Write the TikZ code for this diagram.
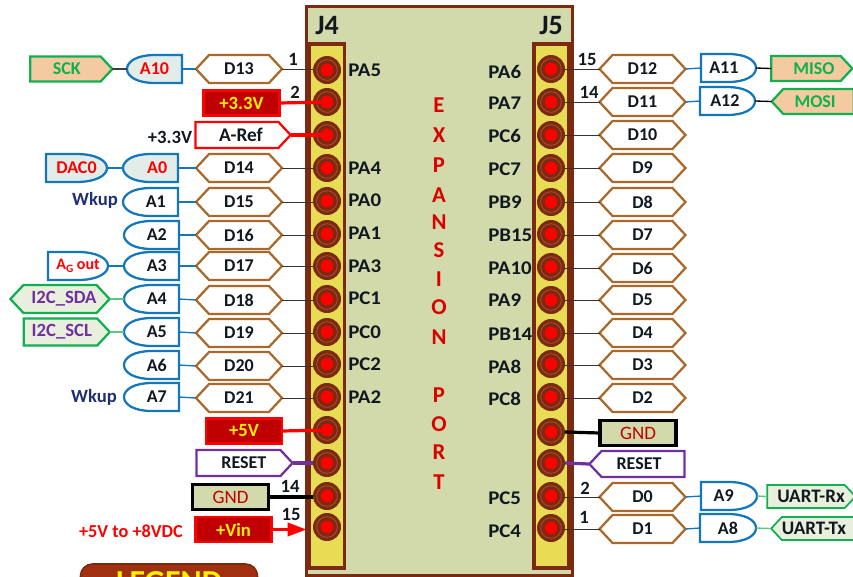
\documentclass[tikz,border=0pt]{standalone}
\usepackage{fontspec}
\setmainfont{Carlito}
\newfontfamily\portfont[FakeStretch=1.08]{Carlito}
\usetikzlibrary{shapes.symbols,arrows.meta}
\definecolor{bbrown}{HTML}{7A2A10}
\definecolor{rring}{HTML}{A8482C}
\definecolor{hbrown}{HTML}{A9692B}
\definecolor{bblue}{HTML}{1577BB}
\definecolor{ggreen}{HTML}{10B050}
\definecolor{pblue}{HTML}{E2ECE8}
\definecolor{pgreen}{HTML}{E8EFDC}
\definecolor{porange}{HTML}{F4CBA0}
\definecolor{board}{HTML}{D2D9AB}
\definecolor{stripc}{HTML}{E8DC55}
\definecolor{dred}{HTML}{C00000}
\definecolor{ppurple}{HTML}{7030A0}
\definecolor{navyt}{HTML}{1F3070}
\definecolor{legendc}{HTML}{A03010}
\definecolor{inkc}{HTML}{101820}
\tikzset{
  wpx/.style={minimum width=#1*0.75pt},
  hpx/.style={minimum height=#1*0.75pt},
  txt/.style={font=\fontsize{13.5}{14}\bfseries,text=inkc,inner sep=0pt},
  sig/.style={shape=signal,draw,line width=1.7pt,inner sep=0pt,outer sep=0pt,txt,signal pointer angle=94},
  hexn/.style={sig,signal to=east and west,draw=hbrown,fill=white,wpx=86,hpx=28},
  powerbox/.style={draw=red,line width=1.6pt,fill=dred,text=yellow,font=\fontsize{14}{15}\bfseries,inner sep=0pt,outer sep=0pt,wpx=76,hpx=25},
  gndbox/.style={draw=black,line width=2.4pt,fill=board,text=dred,font=\fontsize{14.2}{15}\selectfont,inner sep=0pt,outer sep=0pt,wpx=76,hpx=25},
  gatetext/.style={txt,outer sep=0pt,hpx=28},
  gateline/.style={draw=bblue,line width=1.7pt,fill=white},
  pinout/.style={circle,fill=bbrown,inner sep=0pt,minimum size=21pt,outer sep=0pt},
  pinring/.style={circle,draw=rring,line width=0.7pt,inner sep=0pt,minimum size=15.5pt},
  pincore/.style={circle,fill=red,inner sep=0pt,minimum size=9.5pt},
  port/.style={txt,font=\portfont\fontsize{14.5}{15}\bfseries},
  num/.style={txt,font=\fontsize{14}{15}\bfseries},
  capt/.style={inner sep=0pt,font=\fontsize{21}{22}\bfseries,text=inkc},
  vert/.style={inner sep=0pt,font=\fontsize{17}{18}\bfseries,text=dred!60!red},
  thin link/.style={draw=black!80,line width=0.75pt},
  blue link/.style={draw=bblue,line width=1pt},
  green link/.style={draw=ggreen!70!white,line width=1pt},
}
% dir (1: flat edge right, -1: flat edge left), name, flat x, centre y, width, style, text shift, text
\newcommand{\gatenode}[8]{%
  \begin{scope}[shift={(#3,#4)},xscale=#1]
    \draw[gateline,#6] (0,-14) -- (-#5*0.5,-14) .. controls (-#5*0.8,-14) and (-#5,-8) .. (-#5,0)
      .. controls (-#5,8) and (-#5*0.8,14) .. (-#5*0.5,14) -- (0,14) -- cycle;
  \end{scope}
  \node[gatetext,wpx=#5] (#2) at ({#3-(#1)*#5*0.5},#4) {\hspace*{#7pt}#8};
}
\newcommand{\pinnode}[3]{%
  \node[pinout] (#1) at (#2,#3) {};
  \node[pinring] (#1r) at (#2,#3) {};
  \node[pincore] (#1c) at (#2,#3) {};
}
\begin{document}
\begin{tikzpicture}[x=0.75pt,y=-0.75pt]
\useasboundingbox (0,0) rectangle (853,576);
\clip (0,0) rectangle (853,576);
% board
\node[draw=bbrown,line width=2.4pt,fill=board,inner sep=0pt,wpx=266,hpx=569] (board) at (439.5,291) {};
\node[draw=bbrown,line width=2.4pt,fill=stripc,inner sep=0pt,wpx=35,hpx=524] (stripL) at (327,306) {};
\node[draw=bbrown,line width=2.4pt,fill=stripc,inner sep=0pt,wpx=35,hpx=524] (stripR) at (551.5,306) {};
\node[capt] (j4) at (327,26) {J4};
\node[capt] (j5) at (551,26) {J5};
% pins
\foreach \n/\y in {1/70,2/102,3/135,4/168,5/201,6/234,7/266,8/299,9/332,10/364,11/397,12/430,13/463,14/496,15/527}
  {\pinnode{L\n}{327}{\y}}
\foreach \n/\y in {1/69,2/102,3/135,4/168,5/202,6/234,7/267,8/300,9/333,10/364,11/397,12/432,13/463,14/496,15/528}
  {\pinnode{R\n}{551}{\y}}
% port names
\foreach \t/\y in {PA5/70,PA4/168,PA0/200,PA1/233,PA3/266,PC1/298,PC0/332,PC2/364,PA2/397}
  {\node[port,anchor=west] (p\t) at (348,\y) {\t};}
\foreach \t/\y in {PA6/72,PA7/103,PC6/136,PC7/169,PB9/202,PB15/235,PA10/268,PA9/300,PB14/334,PA8/367,PC8/399,PC5/498,PC4/531}
  {\node[port,anchor=west] (p\t) at (488,\y) {\t};}
% centre lettering
\foreach \t/\y [count=\i] in {E/105,X/135,P/165,A/195,N/222,S/250,I/279,O/307,N/337,P/395,O/424,R/452,T/482}
  {\node[vert] (v\i) at (439,\y) {\t};}
% left hexes with links
\foreach \t/\y/\p in {D13/69/L1,D14/168/L4,D15/202/L5,D16/235/L6,D17/266/L7,D18/300/L8,D19/333/L9,D20/366/L10,D21/398/L11}
  {\node[hexn] (\t) at (239,\y) {\t};
   \draw[thin link] (\t.east) -- (\p.west |- \t.east);}
% right hexes with links
\foreach \t/\y/\p in {D12/69/R1,D11/102/R2,D10/135/R3,D9/168/R4,D8/202/R5,D7/235/R6,D6/268/R7,D5/300/R8,D4/333/R9,D3/365/R10,D2/398/R11,D0/497/R14,D1/529/R15}
  {\node[hexn] (\t) at (642.5,\y) {\t};
   \draw[thin link] (\t.west) -- (\p.east |- \t.west);}
% left analog gates
\gatenode{1}{A10}{182}{69}{55}{fill=pblue}{0}{\textcolor{red}{A10}}
\gatenode{1}{A0}{178}{168}{55}{fill=pblue}{10}{\textcolor{red}{A0}}
\gatenode{1}{A1}{178}{202}{55}{}{8}{A1}
\gatenode{1}{A2}{179}{235}{55}{}{8}{A2}
\gatenode{1}{A3}{179}{266}{55}{}{8}{A3}
\gatenode{1}{A4}{179}{299}{55}{}{8}{A4}
\gatenode{1}{A5}{179}{332}{55}{}{8}{A5}
\gatenode{1}{A6}{179}{365}{55}{}{8}{A6}
\gatenode{1}{A7}{179}{397}{55}{}{8}{A7}
\foreach \a/\d in {A10/D13,A0/D14,A1/D15,A2/D16,A3/D17,A4/D18,A5/D19,A6/D20,A7/D21}
  {\draw[blue link] (\a.east) -- (\d.west);}
% left outer labels
\node[sig,signal to=east,draw=ggreen,fill=porange,text=ggreen,wpx=82,hpx=25] (SCK) at (65.5,69) {\hspace*{2pt}SCK};
\draw[draw=black!75,line width=1.2pt] (SCK.east) -- (A10.west);
\gatenode{-1}{DAC0}{46}{168}{61}{fill=pblue}{0}{\textcolor{red}{DAC0}}
\draw[blue link] (DAC0.east) -- (A0.west);
\gatenode{-1}{Agout}{48}{266}{60}{}{0}{\textcolor{red}{\fontsize{12}{13}\selectfont\bfseries A\raisebox{-2pt}{\fontsize{8.5}{9}\selectfont G} out}}
\draw[blue link] (Agout.east) -- (A3.west);
\node[sig,signal to=east and west,draw=ggreen,fill=pgreen,text=ppurple,wpx=96,hpx=28,font=\fontsize{14}{15}\bfseries] (SDA) at (60,299) {\hspace*{6pt}I2C\_SDA};
\draw[green link] (SDA.east) -- (A4.west);
\node[sig,signal to=east,draw=ggreen,fill=pgreen,text=ppurple,wpx=86,hpx=27,font=\fontsize{14}{15}\bfseries] (SCL) at (60.5,332) {\hspace*{2pt}I2C\_SCL};
\draw[green link] (SCL.east) -- (A5.west);
\node[txt,text=navyt,font=\fontsize{14}{15}\bfseries] (wk1) at (95,200) {Wkup};
\node[txt,text=navyt,font=\fontsize{14}{15}\bfseries] (wk2) at (94,397) {Wkup};
\node[txt,font=\fontsize{14}{15}\bfseries] (v33) at (170,137) {+3.3V};
\node[txt,text=red,font=\fontsize{13.7}{15}\bfseries] (vrange) at (131,531) {+5V to +8VDC};
% left power
\node[powerbox] (P33) at (241.5,103) {+3.3V};
\draw[red,line width=2.4pt] (P33.east) -- (L2c.center);
\node[sig,signal to=east,draw=red,fill=white,wpx=95,hpx=26,font=\fontsize{14.5}{15}\bfseries] (AREF) at (237,135) {\hspace*{6pt}A-Ref};
\draw[red,line width=2.4pt] (AREF.east) -- (L3c.center);
\node[powerbox] (P5) at (244,431) {+5V};
\draw[red,line width=2.4pt] (P5.east) -- (L12c.center);
\node[sig,signal to=east,draw=ppurple,fill=white,wpx=96,hpx=26] (RSTL) at (238.5,463) {\hspace*{8pt}RESET};
\draw[ppurple,line width=2.4pt] (RSTL.east) -- (L13.west);
\node[gndbox] (GNDL) at (230.5,497) {GND};
\draw[black,line width=2.4pt] (GNDL.east) -- (L14.west |- GNDL.east);
\node[powerbox] (VIN) at (233.5,529.5) {+Vin};
\draw[red,line width=2pt,-{Triangle[length=14pt,width=10pt]},shorten >=5pt] (VIN.east) -- (L15.west |- VIN.east);
% right side
\gatenode{-1}{A11}{701}{68}{55}{}{-7}{A11}
\gatenode{-1}{A12}{700}{101}{55}{}{-4}{A12}
\gatenode{-1}{A9}{701}{496}{56}{}{-8}{A9}
\gatenode{-1}{A8}{700}{528}{56}{}{0}{A8}
\draw[blue link] (D12.east) -- (A11.west);
\draw[blue link] (D11.east) -- (A12.west);
\draw[blue link] (D0.east) -- (A9.west);
\draw[blue link] (D1.east) -- (A8.west);
\node[sig,signal to=east,draw=ggreen,fill=porange,text=ggreen,wpx=81,hpx=25] (MISO) at (806,68.5) {\hspace*{12pt}MISO};
\draw[draw=black,line width=1pt] (A11.east) -- (MISO.west);
\node[sig,signal to=west,draw=ggreen,fill=porange,text=ggreen,wpx=82,hpx=25] (MOSI) at (818.5,101.5) {\hspace*{-5pt}MOSI};
\draw[draw=black,line width=1pt] (A12.east) -- (MOSI.west);
\node[sig,signal to=east,draw=ggreen,fill=pgreen,wpx=81,hpx=23,line width=1.3pt,font=\fontsize{14.3}{15}\selectfont\bfseries] (UARX) at (806,496.5) {\hspace*{7.5pt}UART-Rx};
\draw[green link] (A9.east) -- (UARX.west);
\node[sig,signal to=west,draw=ggreen,fill=pgreen,wpx=83,hpx=23,line width=1.3pt,font=\fontsize{14.3}{15}\selectfont\bfseries] (UATX) at (818,528.5) {\hspace*{-6pt}UART-Tx};
\draw[green link] (A8.east) -- (UATX.west);
\node[gndbox] (GNDR) at (638,433) {GND};
\draw[black,line width=2.4pt] (R12.east) -- (GNDR.west);
\node[sig,signal to=west,draw=ppurple,fill=white,wpx=95,hpx=26] (RSTR) at (643,464) {\hspace*{-6pt}RESET};
\draw[ppurple,line width=2.4pt] (R13.east) -- (RSTR.west);
% pin numbers
\node[num] (n1) at (293,59) {1};
\node[num] (n2) at (295,92) {2};
\node[num] (n14) at (290,486) {14};
\node[num] (n15) at (291,514) {15};
\node[num] (n15r) at (587,59) {15};
\node[num] (n14r) at (589,92) {14};
\node[num] (n2r) at (585,488) {2};
\node[num] (n1r) at (584,517) {1};
% legend, cut by the picture edge
\node[draw=bbrown,line width=1.2pt,fill=legendc,rounded corners=9pt,inner sep=0pt,wpx=177,hpx=40,text=yellow,font=\fontsize{24}{26}\bfseries] (legend) at (169,584) {\raisebox{3pt}{LEGEND}};
\end{tikzpicture}
\end{document}
